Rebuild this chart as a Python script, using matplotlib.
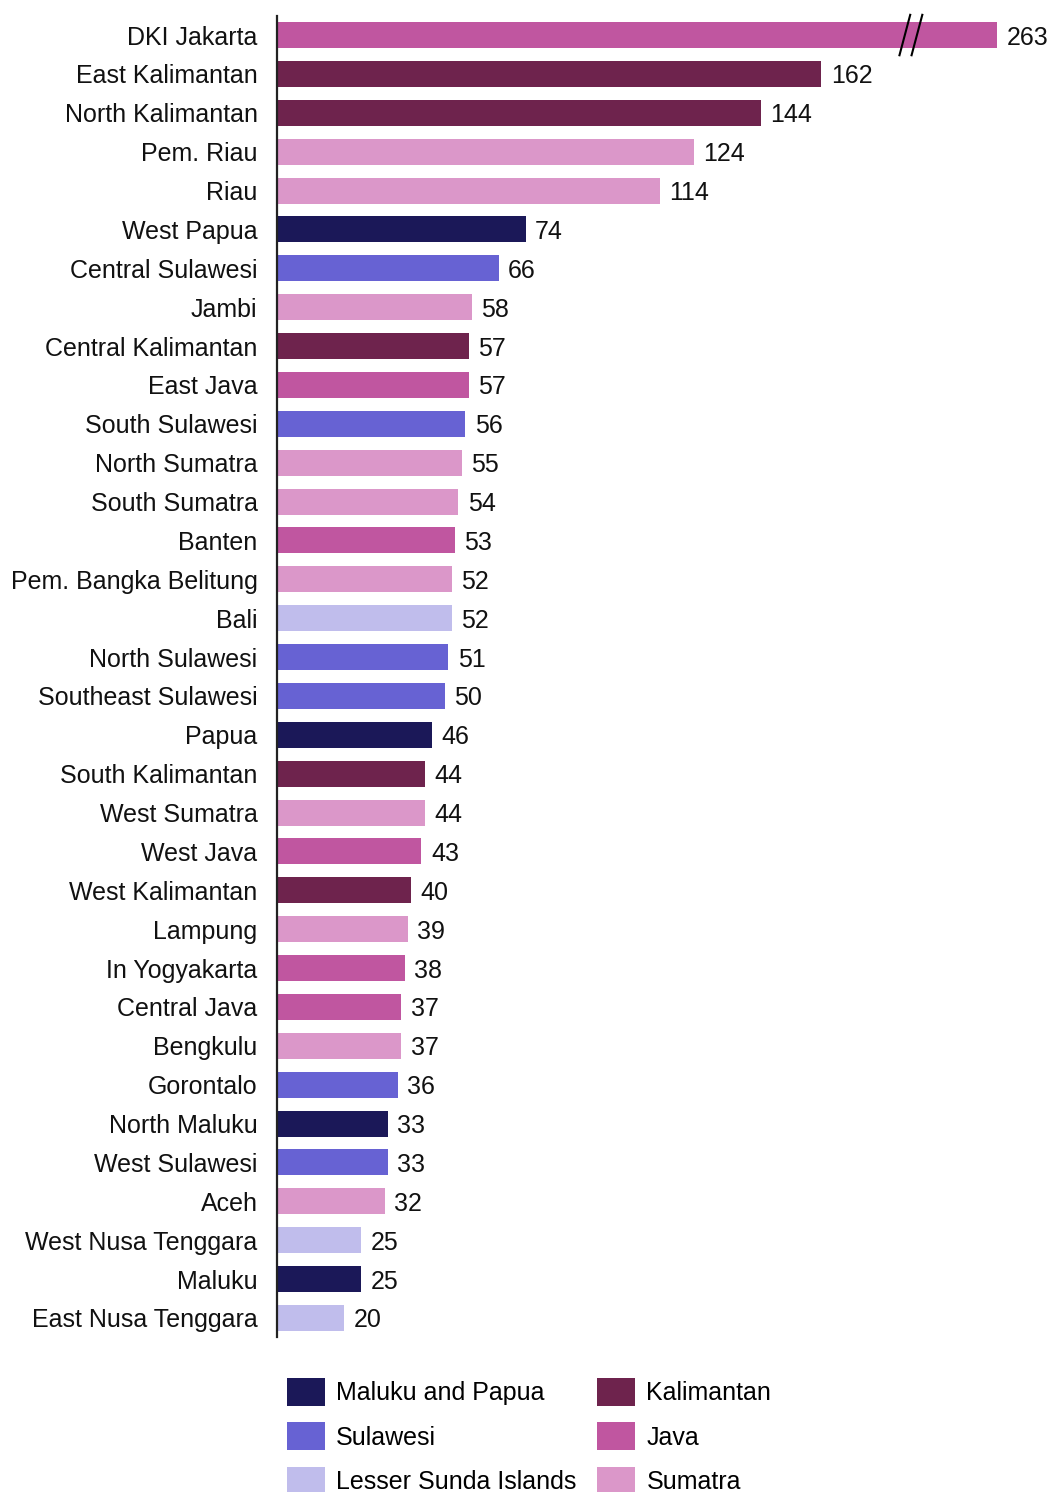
import matplotlib
matplotlib.use("Agg")
import matplotlib.pyplot as plt
from matplotlib.patches import Patch

provinces = ["DKI Jakarta", "East Kalimantan", "North Kalimantan", "Pem. Riau", "Riau",
             "West Papua", "Central Sulawesi", "Jambi", "Central Kalimantan", "East Java",
             "South Sulawesi", "North Sumatra", "South Sumatra", "Banten",
             "Pem. Bangka Belitung", "Bali", "North Sulawesi", "Southeast Sulawesi", "Papua",
             "South Kalimantan", "West Sumatra", "West Java", "West Kalimantan", "Lampung",
             "In Yogyakarta", "Central Java", "Bengkulu", "Gorontalo", "North Maluku",
             "West Sulawesi", "Aceh", "West Nusa Tenggara", "Maluku", "East Nusa Tenggara"]
values = [263, 162, 144, 124, 114, 74, 66, 58, 57, 57, 56, 55, 54, 53, 52, 52, 51, 50, 46,
          44, 44, 43, 40, 39, 38, 37, 37, 36, 33, 33, 32, 25, 25, 20]
regions = ["Java", "Kalimantan", "Kalimantan", "Sumatra", "Sumatra",
           "Maluku and Papua", "Sulawesi", "Sumatra", "Kalimantan", "Java",
           "Sulawesi", "Sumatra", "Sumatra", "Java",
           "Sumatra", "Lesser Sunda Islands", "Sulawesi", "Sulawesi", "Maluku and Papua",
           "Kalimantan", "Sumatra", "Java", "Kalimantan", "Sumatra",
           "Java", "Java", "Sumatra", "Sulawesi", "Maluku and Papua",
           "Sulawesi", "Sumatra", "Lesser Sunda Islands", "Maluku and Papua", "Lesser Sunda Islands"]
legend_order = ["Maluku and Papua", "Sulawesi", "Lesser Sunda Islands",
                "Kalimantan", "Java", "Sumatra"]
region_colors = {
    "Maluku and Papua": "#1b1858",
    "Sulawesi": "#6762d3",
    "Lesser Sunda Islands": "#c0bdec",
    "Kalimantan": "#6e234d",
    "Java": "#c056a0",
    "Sumatra": "#db97c9",
}
axis_max = 214.3

plt.rcParams["font.family"] = ["Liberation Sans", "DejaVu Sans"]
FS = 18

fig = plt.figure(figsize=(10.56, 14.92), dpi=100)
ax = fig.add_axes([277/1056, 1 - 1337.4/1492, 720/1056, (1337.4 - 15.6)/1492])

ypos = list(range(len(provinces)))
ax.barh(ypos, values, height=0.67, color=[region_colors[r] for r in regions])
ax.set_xlim(0, axis_max)
ax.set_ylim(len(provinces) - 0.5, -0.5)
ax.set_yticks(ypos)
ax.set_yticklabels(provinces, fontsize=FS, color="#111111")
for lbl in ax.get_yticklabels():
    lbl.set_verticalalignment("center_baseline")
ax.tick_params(axis="y", length=0, pad=14)
ax.set_xticks([])
for s in ["top", "right", "bottom"]:
    ax.spines[s].set_visible(False)
ax.spines["left"].set_linewidth(1.6)
ax.spines["left"].set_color("#222222")

for y, v in zip(ypos, values):
    xv = min(v, axis_max)
    ax.text(xv + 2.8, y, str(v), va="center_baseline", ha="left", fontsize=FS,
            color="#111111", clip_on=False)

# axis break marks on the truncated bar
bx = axis_max * 0.872
for dx in (0, 3.6):
    ax.plot([bx + dx - 1.6, bx + dx + 1.6], [0.52, -0.52], color="black", lw=1.5,
            clip_on=False, zorder=5)

handles = [Patch(facecolor=region_colors[r], edgecolor="none", label=r) for r in legend_order]
fig.legend(handles=handles, ncol=2, loc="upper left", bbox_to_anchor=(287/1056, 1 - 1378/1492),
           frameon=False, fontsize=FS, handlelength=1.52, handleheight=1.35,
           handletextpad=0.44, columnspacing=0.84, labelspacing=0.65, borderaxespad=0,
           borderpad=0)

fig.savefig("out.png", dpi=100)
